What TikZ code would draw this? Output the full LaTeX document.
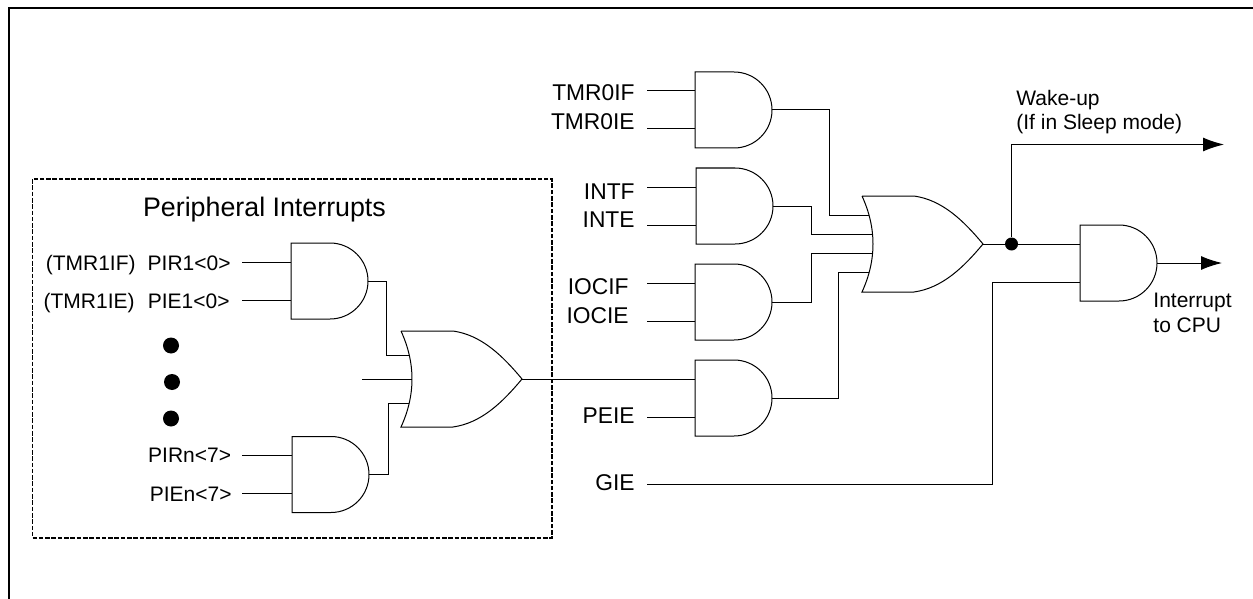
\documentclass[tikz,border=0pt]{standalone}
\usepackage{fontspec}
\setmainfont{Liberation Sans}
\usetikzlibrary{arrows.meta}
\newdimen\gatew \newdimen\gatee \newdimen\gaten \newdimen\gates \newdimen\gatem
\makeatletter
\def\gatebox{\southwest \gatew=\pgf@x \gates=\pgf@y \northeast \gatee=\pgf@x \gaten=\pgf@y}
\def\orinput#1#2{\gatebox \pgf@x=\gatew \advance\pgf@x by #2pt \pgf@y=#1\gaten}
\pgfdeclareshape{andbody}{
  \inheritsavedanchors[from=rectangle]
  \inheritanchorborder[from=rectangle]
  \inheritanchor[from=rectangle]{center}
  \inheritanchor[from=rectangle]{west}
  \inheritanchor[from=rectangle]{east}
  \anchor{in 1}{\gatebox \pgf@x=\gatew \pgf@y=.5\gaten}
  \anchor{in 2}{\gatebox \pgf@x=\gatew \pgf@y=.5\gates}
  \backgroundpath{
    \gatebox \gatem=\gatee \advance\gatem by -\gaten
    \pgfpathmoveto{\pgfqpoint{\gatew}{\gaten}}
    \pgfpathlineto{\pgfqpoint{\gatem}{\gaten}}
    \pgfpatharc{90}{-90}{\gaten}
    \pgfpathlineto{\pgfqpoint{\gatew}{\gates}}
    \pgfpathclose
  }
}
\pgfdeclareshape{orbody}{
  \inheritsavedanchors[from=rectangle]
  \inheritanchorborder[from=rectangle]
  \inheritanchor[from=rectangle]{center}
  \inheritanchor[from=rectangle]{west}
  \inheritanchor[from=rectangle]{east}
  % four wires on the big gate, three on the small one
  \anchor{in 1}{\orinput{.594}{3.55}}
  \anchor{in 2}{\orinput{.198}{5.3}}
  \anchor{in 3}{\orinput{-.198}{5.3}}
  \anchor{in 4}{\orinput{-.594}{3.55}}
  \anchor{in a}{\orinput{.5}{4.1}}
  \anchor{in b}{\orinput{0}{5.5}}
  \anchor{in c}{\orinput{-.5}{4.1}}
  \backgroundpath{
    \gatebox \gatem=\gatew \advance\gatem by 26pt
    \pgfpathmoveto{\pgfqpoint{\gatew}{\gaten}}
    \pgfpathlineto{\pgfqpoint{\gatem}{\gaten}}
    \pgfpathcurveto{\pgfpointadd{\pgfqpoint{\gatem}{\gaten}}{\pgfqpoint{14pt}{-2pt}}}
      {\pgfpointadd{\pgfqpoint{\gatee}{0pt}}{\pgfqpoint{-10pt}{12pt}}}
      {\pgfqpoint{\gatee}{0pt}}
    \pgfpathcurveto{\pgfpointadd{\pgfqpoint{\gatee}{0pt}}{\pgfqpoint{-10pt}{-12pt}}}
      {\pgfpointadd{\pgfqpoint{\gatem}{\gates}}{\pgfqpoint{14pt}{2pt}}}
      {\pgfqpoint{\gatem}{\gates}}
    \pgfpathlineto{\pgfqpoint{\gatew}{\gates}}
    \pgfpathcurveto{\pgfpointadd{\pgfqpoint{\gatew}{0pt}}{\pgfqpoint{7.33pt}{-8pt}}}
      {\pgfpointadd{\pgfqpoint{\gatew}{0pt}}{\pgfqpoint{7.33pt}{8pt}}}
      {\pgfqpoint{\gatew}{\gaten}}
  }
}
\makeatother
\tikzset{
  wire/.style={line width=.5pt},
  andgate/.style={andbody, draw, line width=.5pt, minimum height=38pt, minimum width=38.5pt, inner sep=0pt, outer sep=0pt, anchor=west},
  orgate/.style={orbody, draw, line width=.5pt, minimum height=48pt, minimum width=60.5pt, inner sep=0pt, outer sep=0pt, anchor=west},
  sig/.style={anchor=east, inner sep=0pt, font=\fontsize{11.4}{13}\selectfont},
  smallsig/.style={anchor=east, inner sep=0pt, font=\fontsize{10.5}{12}\selectfont},
  note/.style={anchor=west, inner sep=0pt, font=\fontsize{10.5}{12}\selectfont},
  bigdot/.style={circle, fill=black, inner sep=0pt, minimum size=8pt},
  outarrow/.style={wire, -{Latex[length=10.5pt,width=7pt]}}
}
\begin{document}
\begin{tikzpicture}[x=.5pt, y=-.5pt]
  \useasboundingbox (0,0) rectangle (1253,599);
  \draw[line width=1pt] (9,599) -- (9,8) -- (1253,8);
  \draw[line width=.7pt, dash pattern=on 2.3pt off .85pt] (32.5,179) rectangle (552,538);
  \node[anchor=center, inner sep=0pt, font=\fontsize{13.4}{16}\selectfont] (title) at (264.5,210) {Peripheral Interrupts};

  % peripheral side
  \node[andgate] (pir) at (291,281) {};
  \node[andgate] (pirn) at (292,474.5) {};
  \node[orgate] (perior) at (401,379) {};
  \node[smallsig] (pirlbl) at (231,263) {PIR1<0>};
  \node[smallsig] (pielbl) at (230,301) {PIE1<0>};
  \node[smallsig] (tmriflbl) at (136,265) {(TMR1IF)};
  \node[smallsig] (tmrielbl) at (135,303) {(TMR1IE)};
  \node[smallsig] (pirnlbl) at (231.5,455) {PIRn<7>};
  \node[smallsig] (pienlbl) at (232,494) {PIEn<7>};
  \node[bigdot] (dot1) at (171,345.5) {};
  \node[bigdot] (dot2) at (172,382) {};
  \node[bigdot] (dot3) at (171,418.5) {};

  % main gates
  \node[andgate] (tmr) at (695,110) {};
  \node[andgate] (intg) at (696,206) {};
  \node[andgate] (ioc) at (695,302) {};
  \node[andgate] (peie) at (695,398) {};
  \node[andgate] (cpu) at (1080,263) {};
  \node[orgate] (mainor) at (862,244) {};

  \node[sig] (tmriflab) at (635,93) {TMR0IF};
  \node[sig] (tmrielab) at (635,122) {TMR0IE};
  \node[sig] (intflab) at (635,191.5) {INTF};
  \node[sig] (intelab) at (635,220) {INTE};
  \node[sig] (iociflab) at (629,287) {IOCIF};
  \node[sig] (iocielab) at (629,316) {IOCIE};
  \node[sig] (peielab) at (635,416) {PEIE};
  \node[sig] (gielab) at (635,483) {GIE};

  \node[note] (wakelab) at (1016,100) {Wake-up};
  \node[note] (sleeplab) at (1016,124.5) {(If in Sleep mode)};
  \node[note] (irqlab) at (1153,302) {Interrupt};
  \node[note] (cpulab) at (1153,325) {to CPU};

  \node[circle, fill=black, inner sep=0pt, minimum size=6.5pt] (junc) at (1011.5,244) {};

  \coordinate (leftp) at (242,0);
  \coordinate (leftm) at (647,0);
  \coordinate (bend1) at (386.5,0);
  \coordinate (bend2) at (388,0);
  \coordinate (bend3) at (829,0);
  \coordinate (bend4) at (811,0);
  \coordinate (bend5) at (838,0);
  \coordinate (stub) at (362,0);
  \coordinate (gieturn) at (992,0);
  \coordinate (giestart) at (647,484);
  \coordinate (wakeend) at (1224,144.5);
  \coordinate (cpuend) at (1222,0);

  \foreach \g in {pir,pirn}
  {
    \draw[wire] (leftp |- \g.in 1) -- (\g.in 1);
    \draw[wire] (leftp |- \g.in 2) -- (\g.in 2);
  }
  \foreach \g in {tmr,intg,ioc}
  {
    \draw[wire] (leftm |- \g.in 1) -- (\g.in 1);
    \draw[wire] (leftm |- \g.in 2) -- (\g.in 2);
  }
  \draw[wire] (leftm |- peie.in 2) -- (peie.in 2);
  \draw[wire] (perior.east) -- (peie.in 1);
  \draw[wire] (stub |- perior.in b) -- (perior.in b);
  \draw[wire] (pir.east) -| (bend1 |- perior.in a) -- (perior.in a);
  \draw[wire] (pirn.east) -| (bend2 |- perior.in c) -- (perior.in c);
  \draw[wire] (tmr.east) -| (bend3 |- mainor.in 1) -- (mainor.in 1);
  \draw[wire] (intg.east) -| (bend4 |- mainor.in 2) -- (mainor.in 2);
  \draw[wire] (ioc.east) -| (bend4 |- mainor.in 3) -- (mainor.in 3);
  \draw[wire] (peie.east) -| (bend5 |- mainor.in 4) -- (mainor.in 4);
  \draw[wire] (mainor.east) -- (junc) -- (cpu.in 1);
  \draw[wire] (giestart) -| (gieturn |- cpu.in 2) -- (cpu.in 2);
  \draw[outarrow] (junc) |- (wakeend);
  \draw[outarrow] (cpu.east) -- (cpuend |- cpu.east);
\end{tikzpicture}
\end{document}
